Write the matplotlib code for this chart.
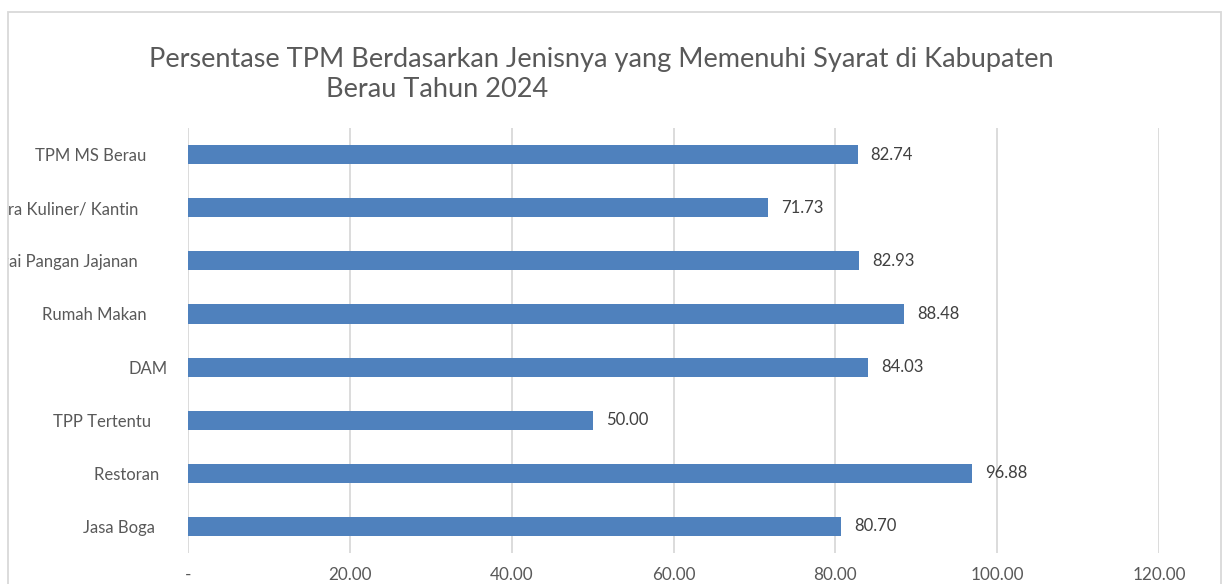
import matplotlib
matplotlib.use("Agg")
import matplotlib.pyplot as plt
from matplotlib.patches import Rectangle

# data (top to bottom as shown); trailing spaces as in the source sheet
categories = ["TPM MS Berau     ",
              "Sentra Kuliner/ Kantin       ",
              "Gerai Pangan Jajanan       ",
              "Rumah Makan     ",
              "DAM",
              "TPP Tertentu    ",
              "Restoran  ",
              "Jasa Boga   "]
values = [82.74, 71.73, 82.93, 88.48, 84.03, 50.00, 96.88, 80.70]
xticks = [0, 20, 40, 60, 80, 100, 120]
xtick_labels = ["-", "20.00", "40.00", "60.00", "80.00", "100.00", "120.00"]
title_1 = "Persentase TPM Berdasarkan Jenisnya yang Memenuhi Syarat di Kabupaten"
title_2 = "Berau Tahun 2024"

plt.rcParams['font.family'] = ['Lato', 'DejaVu Sans']
text_col = '#595959'
W, H = 1223, 584

fig = plt.figure(figsize=(W / 100, H / 100), dpi=100, facecolor='white')
ax = fig.add_axes([188 / W, (H - 553) / H, (1159 - 188) / W, (553 - 128) / H])

ypos = list(range(len(categories)))[::-1]
bars = ax.barh(ypos, values, height=0.36, color='#4F81BD', zorder=3)

for b, v in zip(bars, values):
    ax.annotate(f"{v:.2f}", (b.get_width(), b.get_y() + b.get_height() / 2),
                xytext=(9.5, 0), textcoords='offset points', ha='left', va='center',
                fontsize=12, color='#404040')

ax.set_xlim(0, 120)
ax.set_ylim(-0.5, len(categories) - 0.5)
ax.set_xticks(xticks)
ax.set_xticklabels(xtick_labels, fontsize=12.3, color=text_col)
ax.set_yticks(ypos)
ax.set_yticklabels(categories, fontsize=12, color=text_col)
ax.tick_params(axis='both', length=0)
ax.tick_params(axis='x', pad=10)
ax.tick_params(axis='y', pad=14.4)
ax.grid(axis='x', color='#D9D9D9', linewidth=1.3, zorder=0)
for s in ax.spines.values():
    s.set_visible(False)

fig.text(601.5 / W, 1 - 67 / H, title_1, ha='center', va='baseline',
         fontsize=19.5, color=text_col)
fig.text(437.5 / W, 1 - 97 / H, title_2, ha='center', va='baseline',
         fontsize=19.5, color=text_col)

# chart frame; labels are clipped at its left edge
fig.patches.append(Rectangle((0, 0), 7.5 / W, 1, transform=fig.transFigure,
                             facecolor='white', edgecolor='none', zorder=10))
fig.patches.append(Rectangle((8 / W, -0.05), (1221 - 8) / W, 1.05 - 12 / H,
                             transform=fig.transFigure, facecolor='none',
                             edgecolor='#D9D9D9', linewidth=1.3, zorder=11))

fig.savefig("out.png", dpi=100, facecolor='white')
